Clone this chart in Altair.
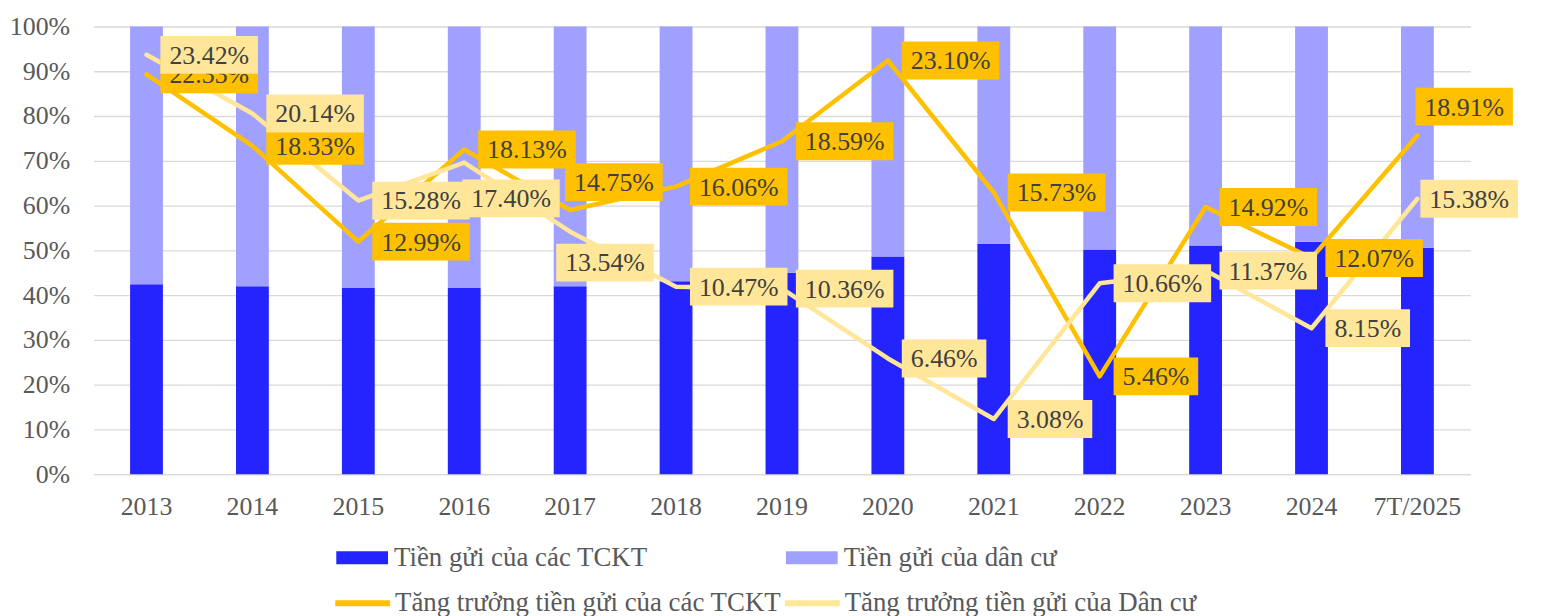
import altair as alt
import pandas as pd

# ---------------- data ----------------
years = ["2013", "2014", "2015", "2016", "2017", "2018", "2019",
         "2020", "2021", "2022", "2023", "2024", "7T/2025"]

# share of deposits (percent of total) - stacked 100% bars
tckt_share = [42.4, 42.0, 41.6, 41.6, 42.0, 43.1, 45.0, 48.6, 51.4, 50.2, 51.1, 51.9, 50.6]
dancu_share = [57.6, 58.0, 58.4, 58.4, 58.0, 56.9, 55.0, 51.4, 48.6, 49.8, 48.9, 48.1, 49.4]

# growth rates (percent) - lines on the right axis
tckt_growth = [22.33, 18.33, 12.99, 18.13, 14.75, 16.06, 18.59, 23.10, 15.73, 5.46, 14.92, 12.07, 18.91]
dancu_growth = [23.42, 20.14, 15.28, 17.40, 13.54, 10.47, 10.36, 6.46, 3.08, 10.66, 11.37, 8.15, 15.38]

bar_names = ["Tiền gửi của các TCKT", "Tiền gửi của dân cư"]
line_names = ["Tăng trưởng tiền gửi của các TCKT", "Tăng trưởng tiền gửi của Dân cư"]

left_ticks = [0, 0.1, 0.2, 0.3, 0.4, 0.5, 0.6, 0.7, 0.8, 0.9, 1.0]
right_ticks = [0, 0.05, 0.10, 0.15, 0.20, 0.25]

# ---------------- style ----------------
FONT = "Liberation Serif"
AXIS_COL = "#595959"
TEXT_COL = "#404040"
GRID_COL = "#D9D9D9"
BAR_COLORS = ["#2424FF", "#A0A0FF"]
LINE_COLORS = ["#FFC000", "#FFE699"]

# manual label nudges (pixels), as in the reference where some labels were moved
NUDGE = {
    (line_names[0], "2017"): (-19, -28),
    (line_names[0], "7T/2025"): (-16, -29),
    (line_names[1], "2016"): (-16, 36),
    (line_names[1], "2017"): (-28, 31),
    (line_names[1], "7T/2025"): (-11, 0),
}

# ---------------- tables ----------------
bar_rows = []
for i, y in enumerate(years):
    bar_rows.append({"year": y, "series": bar_names[0], "share": tckt_share[i] / 100, "ord": 0})
    bar_rows.append({"year": y, "series": bar_names[1], "share": dancu_share[i] / 100, "ord": 1})
df_bar = pd.DataFrame(bar_rows)

line_rows = []
for name, vals in ((line_names[0], tckt_growth), (line_names[1], dancu_growth)):
    for i, y in enumerate(years):
        ndx, ndy = NUDGE.get((name, y), (0, 0))
        line_rows.append({"year": y, "series": name, "growth": vals[i] / 100,
                          "label": f"{vals[i]:.2f}%", "ndx": ndx, "ndy": ndy})
df_line = pd.DataFrame(line_rows)

x_enc = alt.X("year:N", sort=years, title=None,
              scale=alt.Scale(paddingInner=0.69, paddingOuter=0.345),
              axis=alt.Axis(labelAngle=0, labelFont=FONT, labelFontSize=26,
                            labelColor=AXIS_COL, ticks=False, domain=True,
                            domainColor=GRID_COL, domainWidth=1.3,
                            labelPadding=20, grid=False))

bars = alt.Chart(df_bar).mark_bar().encode(
    x=x_enc,
    y=alt.Y("share:Q", stack="zero", title=None,
            scale=alt.Scale(domain=[0, 1], nice=False),
            axis=alt.Axis(values=left_ticks, format=".0%", labelFont=FONT,
                          labelFontSize=26, labelColor=AXIS_COL, ticks=False,
                          domain=False, grid=True, gridColor=GRID_COL,
                          gridWidth=1.3, labelPadding=24)),
    fill=alt.Fill("series:N",
                  scale=alt.Scale(domain=bar_names, range=BAR_COLORS),
                  legend=alt.Legend(orient="none", legendX=244, legendY=508,
                                    direction="horizontal", columns=2, title=None,
                                    symbolType="M-1,-0.25L1,-0.25L1,0.25L-1,0.25Z",
                                    symbolSize=2704, symbolStrokeWidth=0,
                                    symbolOpacity=1, labelFont=FONT,
                                    labelFontSize=27, labelColor=AXIS_COL,
                                    labelOffset=6, columnPadding=138,
                                    labelLimit=700, padding=0)),
    order=alt.Order("ord:Q"),
)

y_line = alt.Y("growth:Q", title=None,
               scale=alt.Scale(domain=[0, 0.25], nice=False),
               axis=alt.Axis(orient="right", values=right_ticks, format=".0%",
                             labelFont=FONT, labelFontSize=26, labelColor=AXIS_COL,
                             ticks=False, domain=False, grid=False, labelPadding=23))
y_none = alt.Y("growth:Q", scale=alt.Scale(domain=[0, 0.25], nice=False), axis=None)
x_plain = alt.X("year:N", sort=years)

lines = alt.Chart(df_line).mark_line(strokeWidth=4.5, strokeJoin="round",
                                     strokeCap="round").encode(
    x=x_plain,
    y=y_line,
    stroke=alt.Stroke("series:N",
                      scale=alt.Scale(domain=line_names, range=LINE_COLORS),
                      legend=alt.Legend(orient="none", legendX=240, legendY=549,
                                        direction="horizontal", columns=2, title=None,
                                        symbolType="stroke", symbolSize=3025,
                                        symbolStrokeWidth=6, labelFont=FONT,
                                        labelFontSize=27, labelColor=AXIS_COL,
                                        labelOffset=2, columnPadding=-9,
                                        labelLimit=700, padding=0)),
    order=alt.Order("year:N"),
)

shape_expr = ("'M' + (14 + datum.ndx) + ',' + (datum.ndy - 19) + "
              "'L' + (14 + datum.ndx + datum.bw) + ',' + (datum.ndy - 19) + "
              "'L' + (14 + datum.ndx + datum.bw) + ',' + (datum.ndy + 19) + "
              "'L' + (14 + datum.ndx) + ',' + (datum.ndy + 19) + 'Z'")


def label_layers(name, color):
    base = alt.Chart(df_line).transform_filter(
        alt.datum.series == name
    ).transform_calculate(
        bw="length(datum.label) > 5 ? 98 : 85"
    ).transform_calculate(
        shp=shape_expr
    )
    box = base.mark_point(filled=True, opacity=1, size=4, strokeWidth=0).encode(
        x=x_plain, y=y_none,
        shape=alt.Shape("shp:N", scale=None, legend=None),
        color=alt.value(color),
    )
    txt = base.mark_text(align="left", baseline="middle",
                         dx={"expr": "23 + datum.ndx"}, dy={"expr": "datum.ndy + 1"},
                         font=FONT, fontSize=26, color=TEXT_COL).encode(
        x=x_plain, y=y_none, text="label:N",
    )
    return [box, txt]


inner = alt.layer(lines, *label_layers(line_names[0], LINE_COLORS[0]),
                  *label_layers(line_names[1], LINE_COLORS[1]))

chart = alt.layer(bars, inner).resolve_scale(
    y="independent"
).properties(
    width=1384, height=450,
    autosize=alt.AutoSizeParams(type="none"),
    padding={"left": 86, "top": 17, "right": 72, "bottom": 141},
).configure_view(stroke=None)

chart.save("out.html", embed_options={"renderer": "svg", "actions": False})
